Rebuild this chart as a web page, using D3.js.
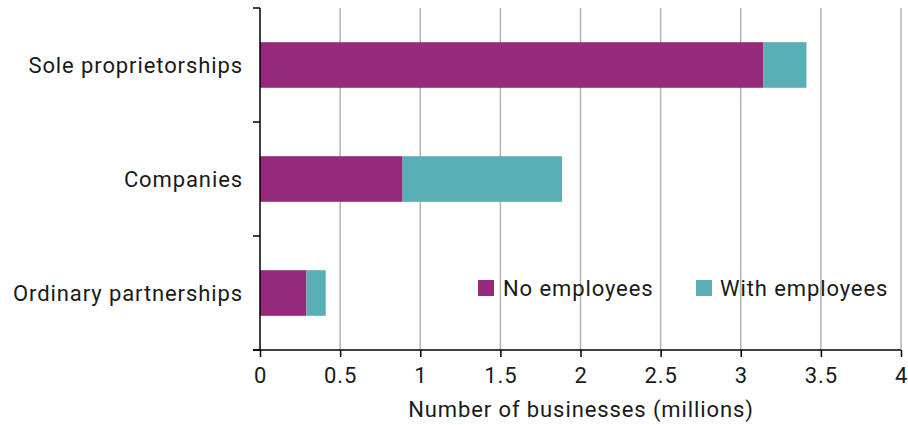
<!DOCTYPE html>
<html><head><meta charset="utf-8">
<script src="https://cdn.jsdelivr.net/npm/d3@7"></script>
<style>body{margin:0;background:#fff}svg{display:block}text{font-family:Roboto,"DejaVu Sans",sans-serif;fill:#1a1a1a;letter-spacing:0.9px}</style>
</head><body><svg id="c" width="908" height="425"></svg>
<script>
const categories = ["Sole proprietorships", "Companies", "Ordinary partnerships"];
const noEmployees = [3.14, 0.89, 0.29];
const withEmployees = [0.27, 0.995, 0.12];
const seriesNames = ["No employees", "With employees"];
const colors = ["#952a7b", "#58b0b5"];
const xTicks = [0, 0.5, 1, 1.5, 2, 2.5, 3, 3.5, 4];

const svg = d3.select("#c");
const x = d3.scaleLinear().domain([0, 4]).range([260, 901]);
const y = d3.scaleBand().domain(categories).range([8, 350]).paddingInner(0.6).paddingOuter(0.3);
const FS = 22;

// gridlines
svg.append("g").selectAll("line").data(xTicks.filter(d => d > 0)).join("line")
  .attr("x1", d => x(d)).attr("x2", d => x(d)).attr("y1", 8).attr("y2", 350)
  .attr("stroke", "#b3b3b3").attr("stroke-width", 1.5);

const data = categories.map((c, i) => ({cat: c, a: noEmployees[i], b: withEmployees[i]}));
const stack = d3.stack().keys(["a", "b"])(data);
svg.append("g").selectAll("g").data(stack).join("g").attr("fill", (d, i) => colors[i])
  .selectAll("rect").data(d => d).join("rect")
  .attr("x", d => x(d[0])).attr("width", d => x(d[1]) - x(d[0]))
  .attr("y", d => y(d.data.cat)).attr("height", y.bandwidth());

// y axis with boundary ticks
const yb = [8, 122, 236, 350];
const ya = svg.append("g");
ya.append("line").attr("x1", 260).attr("x2", 260).attr("y1", 8).attr("y2", 350).attr("stroke", "#000").attr("stroke-width", 1.5);
ya.selectAll("line.t").data(yb).join("line").attr("class", "t")
  .attr("x1", 253).attr("x2", 260).attr("y1", d => d).attr("y2", d => d).attr("stroke", "#000").attr("stroke-width", 1.5);
ya.selectAll("text").data(categories).join("text")
  .attr("x", 243).attr("y", d => y(d) + y.bandwidth() / 2 + 8)
  .attr("text-anchor", "end").attr("font-size", FS).text(d => d);

// x axis
const xa = svg.append("g").attr("transform", "translate(0,350)")
  .call(d3.axisBottom(x).tickValues(xTicks).tickSize(7).tickPadding(10).tickFormat(d3.format("")));
xa.select(".domain").attr("d", "M253,0H901").attr("stroke", "#000").attr("stroke-width", 1.5);
xa.selectAll(".tick line").attr("stroke", "#000").attr("stroke-width", 1.5);
xa.selectAll(".tick text").attr("font-size", FS).attr("fill", "#1a1a1a").style("font-family", "Roboto, sans-serif");

svg.append("text").attr("x", 581).attr("y", 417).attr("text-anchor", "middle").attr("font-size", FS)
  .text("Number of businesses (millions)");

// legend
const lg = [{x: 478, tx: 503}, {x: 696, tx: 720}];
seriesNames.forEach((n, i) => {
  svg.append("rect").attr("x", lg[i].x).attr("y", 280).attr("width", 16).attr("height", 16).attr("fill", colors[i]);
  svg.append("text").attr("x", lg[i].tx).attr("y", 296).attr("font-size", FS).text(n);
});
</script></body></html>
